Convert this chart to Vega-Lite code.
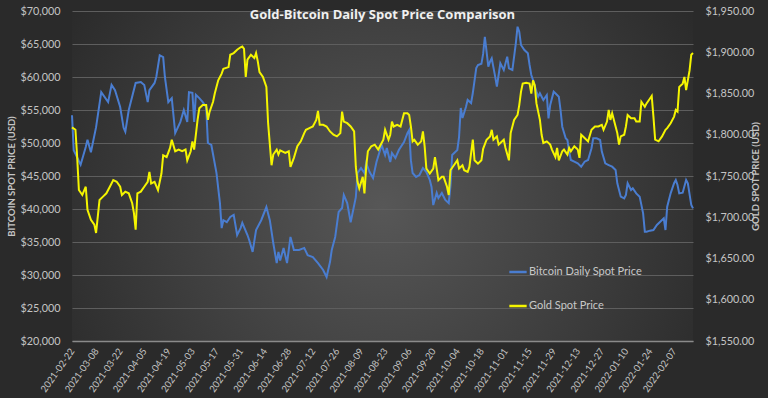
{
  "$schema": "https://vega.github.io/schema/vega-lite/v6.json",
  "autosize": "none",
  "width": 621,
  "height": 330,
  "padding": {"left": 72, "top": 11, "right": 75, "bottom": 57},
  "background": "#2a2a2a",
  "config": {
    "view": {"stroke": null, "fill": {"gradient": "radial", "x1": 0.5, "y1": 0.55, "r1": 0, "x2": 0.5, "y2": 0.55, "r2": 0.6, "stops": [{"offset": 0, "color": "#575757"}, {"offset": 1, "color": "#2a2a2a"}]}},
    "axis": {"labelFont": "Lato", "titleFont": "Lato", "labelColor": "#c4c4c4", "titleColor": "#c4c4c4"}
  },
  "title": {"text": "Gold-Bitcoin Daily Spot Price Comparison", "color": "#f0f0f0", "font": "Open Sans", "fontSize": 13, "fontWeight": "bold", "anchor": "middle", "baseline": "alphabetic", "offset": -27},
  "datasets": {
    "btc": [
      {"date":"2021-02-22","price":54200},{"date":"2021-02-23","price":48900},{"date":"2021-02-27","price":46700},{"date":"2021-03-02","price":49400},{"date":"2021-03-03","price":50500},{"date":"2021-03-05","price":48600},{"date":"2021-03-08","price":52400},{"date":"2021-03-11","price":57700},{"date":"2021-03-15","price":56200},{"date":"2021-03-17","price":58800},{"date":"2021-03-19","price":58000},{"date":"2021-03-22","price":55450},{"date":"2021-03-24","price":52300},{"date":"2021-03-25","price":51700},{"date":"2021-03-27","price":55000},{"date":"2021-03-31","price":59100},{"date":"2021-04-03","price":59250},{"date":"2021-04-05","price":58800},{"date":"2021-04-07","price":56200},{"date":"2021-04-08","price":58000},{"date":"2021-04-11","price":59100},{"date":"2021-04-12","price":60000},{"date":"2021-04-14","price":63300},{"date":"2021-04-16","price":63000},{"date":"2021-04-17","price":60000},{"date":"2021-04-19","price":56200},{"date":"2021-04-21","price":56800},{"date":"2021-04-23","price":51500},{"date":"2021-04-26","price":53200},{"date":"2021-04-28","price":55000},{"date":"2021-04-30","price":53200},{"date":"2021-05-01","price":57700},{"date":"2021-05-03","price":57600},{"date":"2021-05-04","price":53200},{"date":"2021-05-05","price":57300},{"date":"2021-05-07","price":56800},{"date":"2021-05-09","price":56200},{"date":"2021-05-11","price":55450},{"date":"2021-05-12","price":50000},{"date":"2021-05-14","price":49700},{"date":"2021-05-17","price":45450},{"date":"2021-05-19","price":40900},{"date":"2021-05-20","price":37100},{"date":"2021-05-21","price":38300},{"date":"2021-05-23","price":38000},{"date":"2021-05-25","price":38800},{"date":"2021-05-27","price":39100},{"date":"2021-05-29","price":36060},{"date":"2021-05-31","price":37100},{"date":"2021-06-01","price":37900},{"date":"2021-06-04","price":36060},{"date":"2021-06-05","price":35300},{"date":"2021-06-07","price":33500},{"date":"2021-06-09","price":36800},{"date":"2021-06-12","price":38300},{"date":"2021-06-15","price":40300},{"date":"2021-06-17","price":38300},{"date":"2021-06-19","price":34850},{"date":"2021-06-21","price":31800},{"date":"2021-06-22","price":33500},{"date":"2021-06-23","price":32200},{"date":"2021-06-25","price":34100},{"date":"2021-06-27","price":31800},{"date":"2021-06-29","price":35760},{"date":"2021-07-01","price":33800},{"date":"2021-07-04","price":33800},{"date":"2021-07-07","price":34100},{"date":"2021-07-09","price":33000},{"date":"2021-07-12","price":32700},{"date":"2021-07-15","price":31800},{"date":"2021-07-18","price":30760},{"date":"2021-07-20","price":29700},{"date":"2021-07-22","price":32000},{"date":"2021-07-23","price":33800},{"date":"2021-07-25","price":35760},{"date":"2021-07-27","price":39550},{"date":"2021-07-29","price":40150},{"date":"2021-07-30","price":42120},{"date":"2021-08-01","price":40900},{"date":"2021-08-03","price":38000},{"date":"2021-08-06","price":41800},{"date":"2021-08-07","price":45450},{"date":"2021-08-09","price":46200},{"date":"2021-08-11","price":45450},{"date":"2021-08-12","price":46970},{"date":"2021-08-14","price":45600},{"date":"2021-08-16","price":44700},{"date":"2021-08-18","price":47120},{"date":"2021-08-21","price":49700},{"date":"2021-08-23","price":48180},{"date":"2021-08-24","price":49240},{"date":"2021-08-26","price":47120},{"date":"2021-08-27","price":48490},{"date":"2021-08-29","price":47730},{"date":"2021-08-31","price":48940},{"date":"2021-09-03","price":50150},{"date":"2021-09-05","price":51500},{"date":"2021-09-06","price":51970},{"date":"2021-09-07","price":47400},{"date":"2021-09-08","price":45450},{"date":"2021-09-10","price":44850},{"date":"2021-09-12","price":45150},{"date":"2021-09-14","price":46200},{"date":"2021-09-16","price":45600},{"date":"2021-09-18","price":44400},{"date":"2021-09-19","price":43330},{"date":"2021-09-20","price":40600},{"date":"2021-09-22","price":42430},{"date":"2021-09-23","price":41670},{"date":"2021-09-25","price":42430},{"date":"2021-09-27","price":41370},{"date":"2021-09-29","price":40900},{"date":"2021-09-30","price":43500},{"date":"2021-10-01","price":48180},{"date":"2021-10-04","price":48940},{"date":"2021-10-05","price":50900},{"date":"2021-10-06","price":55300},{"date":"2021-10-07","price":53790},{"date":"2021-10-09","price":55450},{"date":"2021-10-10","price":56520},{"date":"2021-10-12","price":56060},{"date":"2021-10-13","price":57570},{"date":"2021-10-15","price":61360},{"date":"2021-10-16","price":61820},{"date":"2021-10-18","price":62000},{"date":"2021-10-19","price":63500},{"date":"2021-10-20","price":66100},{"date":"2021-10-21","price":63840},{"date":"2021-10-22","price":61560},{"date":"2021-10-23","price":62320},{"date":"2021-10-24","price":62830},{"date":"2021-10-26","price":60050},{"date":"2021-10-27","price":58530},{"date":"2021-10-29","price":62070},{"date":"2021-10-31","price":61060},{"date":"2021-11-02","price":63080},{"date":"2021-11-03","price":61320},{"date":"2021-11-05","price":61060},{"date":"2021-11-07","price":65100},{"date":"2021-11-08","price":67620},{"date":"2021-11-09","price":66870},{"date":"2021-11-10","price":64850},{"date":"2021-11-12","price":64090},{"date":"2021-11-14","price":63590},{"date":"2021-11-15","price":61820},{"date":"2021-11-16","price":60300},{"date":"2021-11-17","price":59550},{"date":"2021-11-19","price":57780},{"date":"2021-11-20","price":57020},{"date":"2021-11-21","price":57530},{"date":"2021-11-23","price":56520},{"date":"2021-11-25","price":57270},{"date":"2021-11-26","price":53740},{"date":"2021-11-27","price":55760},{"date":"2021-11-29","price":57780},{"date":"2021-11-30","price":57530},{"date":"2021-12-02","price":57020},{"date":"2021-12-03","price":55000},{"date":"2021-12-04","price":52470},{"date":"2021-12-06","price":50710},{"date":"2021-12-07","price":50450},{"date":"2021-12-08","price":48690},{"date":"2021-12-09","price":47430},{"date":"2021-12-11","price":47170},{"date":"2021-12-13","price":46920},{"date":"2021-12-15","price":46410},{"date":"2021-12-17","price":47170},{"date":"2021-12-19","price":47430},{"date":"2021-12-21","price":49200},{"date":"2021-12-22","price":50710},{"date":"2021-12-24","price":50710},{"date":"2021-12-26","price":50450},{"date":"2021-12-27","price":48690},{"date":"2021-12-29","price":46920},{"date":"2021-12-31","price":46660},{"date":"2022-01-02","price":46410},{"date":"2022-01-04","price":45910},{"date":"2022-01-05","price":43900},{"date":"2022-01-07","price":41870},{"date":"2022-01-09","price":41620},{"date":"2022-01-10","price":42120},{"date":"2022-01-11","price":43900},{"date":"2022-01-13","price":42880},{"date":"2022-01-14","price":43140},{"date":"2022-01-16","price":42370},{"date":"2022-01-18","price":41870},{"date":"2022-01-20","price":39350},{"date":"2022-01-21","price":36570},{"date":"2022-01-22","price":36570},{"date":"2022-01-24","price":36720},{"date":"2022-01-26","price":36820},{"date":"2022-01-28","price":37580},{"date":"2022-01-31","price":38330},{"date":"2022-02-01","price":38580},{"date":"2022-02-02","price":36820},{"date":"2022-02-03","price":40350},{"date":"2022-02-05","price":42370},{"date":"2022-02-07","price":43900},{"date":"2022-02-08","price":44400},{"date":"2022-02-09","price":43640},{"date":"2022-02-10","price":42370},{"date":"2022-02-12","price":42470},{"date":"2022-02-14","price":44400},{"date":"2022-02-15","price":43900},{"date":"2022-02-17","price":40600},{"date":"2022-02-18","price":40100}
    ],
    "gold": [
      {"date":"2021-02-22","price":1809},{"date":"2021-02-24","price":1806},{"date":"2021-02-25","price":1773},{"date":"2021-02-26","price":1733},{"date":"2021-02-28","price":1727},{"date":"2021-03-02","price":1737},{"date":"2021-03-03","price":1709},{"date":"2021-03-05","price":1697},{"date":"2021-03-07","price":1691},{"date":"2021-03-08","price":1681},{"date":"2021-03-09","price":1701},{"date":"2021-03-10","price":1721},{"date":"2021-03-12","price":1725},{"date":"2021-03-14","price":1729},{"date":"2021-03-16","price":1737},{"date":"2021-03-18","price":1745},{"date":"2021-03-20","price":1743},{"date":"2021-03-22","price":1737},{"date":"2021-03-23","price":1727},{"date":"2021-03-25","price":1731},{"date":"2021-03-27","price":1729},{"date":"2021-03-29","price":1717},{"date":"2021-03-30","price":1705},{"date":"2021-03-31","price":1685},{"date":"2021-04-01","price":1729},{"date":"2021-04-03","price":1731},{"date":"2021-04-05","price":1737},{"date":"2021-04-07","price":1743},{"date":"2021-04-08","price":1755},{"date":"2021-04-09","price":1741},{"date":"2021-04-11","price":1743},{"date":"2021-04-13","price":1733},{"date":"2021-04-14","price":1743},{"date":"2021-04-15","price":1753},{"date":"2021-04-16","price":1775},{"date":"2021-04-18","price":1773},{"date":"2021-04-20","price":1784},{"date":"2021-04-21","price":1794},{"date":"2021-04-23","price":1780},{"date":"2021-04-25","price":1782},{"date":"2021-04-27","price":1780},{"date":"2021-04-29","price":1782},{"date":"2021-04-30","price":1769},{"date":"2021-05-02","price":1780},{"date":"2021-05-03","price":1792},{"date":"2021-05-04","price":1782},{"date":"2021-05-06","price":1818},{"date":"2021-05-07","price":1832},{"date":"2021-05-09","price":1836},{"date":"2021-05-11","price":1836},{"date":"2021-05-12","price":1818},{"date":"2021-05-13","price":1828},{"date":"2021-05-15","price":1840},{"date":"2021-05-16","price":1850},{"date":"2021-05-18","price":1866},{"date":"2021-05-20","price":1874},{"date":"2021-05-21","price":1880},{"date":"2021-05-24","price":1882},{"date":"2021-05-25","price":1897},{"date":"2021-05-27","price":1899},{"date":"2021-05-29","price":1903},{"date":"2021-05-31","price":1906},{"date":"2021-06-01","price":1907},{"date":"2021-06-02","price":1904},{"date":"2021-06-03","price":1870},{"date":"2021-06-04","price":1891},{"date":"2021-06-06","price":1897},{"date":"2021-06-08","price":1893},{"date":"2021-06-09","price":1899},{"date":"2021-06-10","price":1889},{"date":"2021-06-11","price":1876},{"date":"2021-06-13","price":1870},{"date":"2021-06-15","price":1858},{"date":"2021-06-16","price":1814},{"date":"2021-06-18","price":1763},{"date":"2021-06-19","price":1776},{"date":"2021-06-21","price":1782},{"date":"2021-06-22","price":1776},{"date":"2021-06-23","price":1781},{"date":"2021-06-26","price":1778},{"date":"2021-06-28","price":1780},{"date":"2021-06-29","price":1761},{"date":"2021-07-01","price":1772},{"date":"2021-07-03","price":1786},{"date":"2021-07-05","price":1792},{"date":"2021-07-07","price":1802},{"date":"2021-07-08","price":1806},{"date":"2021-07-10","price":1808},{"date":"2021-07-12","price":1810},{"date":"2021-07-14","price":1818},{"date":"2021-07-15","price":1829},{"date":"2021-07-16","price":1812},{"date":"2021-07-18","price":1812},{"date":"2021-07-20","price":1810},{"date":"2021-07-22","price":1804},{"date":"2021-07-24","price":1800},{"date":"2021-07-26","price":1798},{"date":"2021-07-28","price":1802},{"date":"2021-07-29","price":1828},{"date":"2021-07-30","price":1816},{"date":"2021-08-01","price":1814},{"date":"2021-08-03","price":1810},{"date":"2021-08-05","price":1804},{"date":"2021-08-06","price":1761},{"date":"2021-08-07","price":1743},{"date":"2021-08-08","price":1735},{"date":"2021-08-10","price":1749},{"date":"2021-08-11","price":1729},{"date":"2021-08-12","price":1761},{"date":"2021-08-13","price":1780},{"date":"2021-08-15","price":1786},{"date":"2021-08-17","price":1788},{"date":"2021-08-19","price":1782},{"date":"2021-08-20","price":1786},{"date":"2021-08-22","price":1794},{"date":"2021-08-23","price":1806},{"date":"2021-08-25","price":1794},{"date":"2021-08-26","price":1800},{"date":"2021-08-27","price":1816},{"date":"2021-08-28","price":1810},{"date":"2021-08-30","price":1812},{"date":"2021-09-01","price":1810},{"date":"2021-09-03","price":1826},{"date":"2021-09-05","price":1826},{"date":"2021-09-06","price":1824},{"date":"2021-09-07","price":1810},{"date":"2021-09-08","price":1792},{"date":"2021-09-09","price":1794},{"date":"2021-09-11","price":1788},{"date":"2021-09-13","price":1792},{"date":"2021-09-14","price":1804},{"date":"2021-09-15","price":1786},{"date":"2021-09-16","price":1759},{"date":"2021-09-18","price":1753},{"date":"2021-09-20","price":1759},{"date":"2021-09-21","price":1773},{"date":"2021-09-23","price":1745},{"date":"2021-09-25","price":1749},{"date":"2021-09-26","price":1749},{"date":"2021-09-28","price":1737},{"date":"2021-09-29","price":1727},{"date":"2021-09-30","price":1757},{"date":"2021-10-02","price":1763},{"date":"2021-10-04","price":1769},{"date":"2021-10-05","price":1759},{"date":"2021-10-07","price":1763},{"date":"2021-10-08","price":1757},{"date":"2021-10-10","price":1755},{"date":"2021-10-11","price":1761},{"date":"2021-10-13","price":1794},{"date":"2021-10-14","price":1769},{"date":"2021-10-16","price":1765},{"date":"2021-10-18","price":1769},{"date":"2021-10-19","price":1783},{"date":"2021-10-21","price":1794},{"date":"2021-10-23","price":1798},{"date":"2021-10-24","price":1806},{"date":"2021-10-25","price":1794},{"date":"2021-10-27","price":1798},{"date":"2021-10-28","price":1788},{"date":"2021-10-29","price":1790},{"date":"2021-10-31","price":1794},{"date":"2021-11-01","price":1784},{"date":"2021-11-03","price":1769},{"date":"2021-11-04","price":1802},{"date":"2021-11-06","price":1818},{"date":"2021-11-08","price":1824},{"date":"2021-11-09","price":1836},{"date":"2021-11-10","price":1852},{"date":"2021-11-11","price":1862},{"date":"2021-11-13","price":1863},{"date":"2021-11-15","price":1862},{"date":"2021-11-16","price":1850},{"date":"2021-11-17","price":1866},{"date":"2021-11-18","price":1860},{"date":"2021-11-19","price":1838},{"date":"2021-11-21","price":1818},{"date":"2021-11-22","price":1800},{"date":"2021-11-23","price":1790},{"date":"2021-11-25","price":1792},{"date":"2021-11-27","price":1788},{"date":"2021-11-28","price":1782},{"date":"2021-11-30","price":1773},{"date":"2021-12-01","price":1784},{"date":"2021-12-02","price":1769},{"date":"2021-12-04","price":1780},{"date":"2021-12-05","price":1782},{"date":"2021-12-07","price":1776},{"date":"2021-12-08","price":1784},{"date":"2021-12-09","price":1780},{"date":"2021-12-11","price":1786},{"date":"2021-12-13","price":1782},{"date":"2021-12-14","price":1772},{"date":"2021-12-15","price":1800},{"date":"2021-12-17","price":1796},{"date":"2021-12-19","price":1792},{"date":"2021-12-21","price":1806},{"date":"2021-12-23","price":1810},{"date":"2021-12-25","price":1810},{"date":"2021-12-27","price":1812},{"date":"2021-12-28","price":1806},{"date":"2021-12-30","price":1816},{"date":"2021-12-31","price":1830},{"date":"2022-01-01","price":1818},{"date":"2022-01-02","price":1826},{"date":"2022-01-04","price":1810},{"date":"2022-01-05","price":1802},{"date":"2022-01-06","price":1788},{"date":"2022-01-07","price":1798},{"date":"2022-01-09","price":1800},{"date":"2022-01-10","price":1810},{"date":"2022-01-11","price":1824},{"date":"2022-01-13","price":1820},{"date":"2022-01-15","price":1820},{"date":"2022-01-16","price":1816},{"date":"2022-01-18","price":1816},{"date":"2022-01-19","price":1840},{"date":"2022-01-21","price":1834},{"date":"2022-01-22","price":1838},{"date":"2022-01-24","price":1844},{"date":"2022-01-25","price":1847},{"date":"2022-01-26","price":1822},{"date":"2022-01-27","price":1794},{"date":"2022-01-29","price":1792},{"date":"2022-01-31","price":1798},{"date":"2022-02-02","price":1806},{"date":"2022-02-03","price":1808},{"date":"2022-02-05","price":1814},{"date":"2022-02-07","price":1822},{"date":"2022-02-08","price":1830},{"date":"2022-02-09","price":1828},{"date":"2022-02-10","price":1858},{"date":"2022-02-12","price":1862},{"date":"2022-02-13","price":1870},{"date":"2022-02-14","price":1854},{"date":"2022-02-16","price":1878},{"date":"2022-02-17","price":1897},{"date":"2022-02-18","price":1899}
    ]
  },
  "encoding": {
    "x": {
      "field": "date", "type": "temporal",
      "scale": {"type": "utc", "nice": false, "domain": [{"year": 2021, "month": 2, "date": 22, "utc": true}, {"year": 2022, "month": 2, "date": 18, "utc": true}]},
      "axis": {
        "title": null, "format": "%Y-%m-%d", "labelAngle": -55, "labelFontSize": 9.5, "labelPadding": 8,
        "grid": false, "ticks": false, "domainColor": "#8a8a8a", "domainWidth": 1.5, "labelOverlap": false,
        "values": [
          {"year":2021,"month":2,"date":22,"utc":true},{"year":2021,"month":3,"date":8,"utc":true},{"year":2021,"month":3,"date":22,"utc":true},{"year":2021,"month":4,"date":5,"utc":true},{"year":2021,"month":4,"date":19,"utc":true},{"year":2021,"month":5,"date":3,"utc":true},{"year":2021,"month":5,"date":17,"utc":true},{"year":2021,"month":5,"date":31,"utc":true},{"year":2021,"month":6,"date":14,"utc":true},{"year":2021,"month":6,"date":28,"utc":true},{"year":2021,"month":7,"date":12,"utc":true},{"year":2021,"month":7,"date":26,"utc":true},{"year":2021,"month":8,"date":9,"utc":true},{"year":2021,"month":8,"date":23,"utc":true},{"year":2021,"month":9,"date":6,"utc":true},{"year":2021,"month":9,"date":20,"utc":true},{"year":2021,"month":10,"date":4,"utc":true},{"year":2021,"month":10,"date":18,"utc":true},{"year":2021,"month":11,"date":1,"utc":true},{"year":2021,"month":11,"date":15,"utc":true},{"year":2021,"month":11,"date":29,"utc":true},{"year":2021,"month":12,"date":13,"utc":true},{"year":2021,"month":12,"date":27,"utc":true},{"year":2022,"month":1,"date":10,"utc":true},{"year":2022,"month":1,"date":24,"utc":true},{"year":2022,"month":2,"date":7,"utc":true}
        ]
      }
    }
  },
  "layer": [
    {
      "data": {"name": "btc"},
      "mark": {"type": "line", "strokeWidth": 2, "interpolate": "linear"},
      "encoding": {
        "y": {"field": "price", "type": "quantitative", "scale": {"domain": [20000, 70000], "nice": false, "zero": false},
          "axis": {"title": "BITCOIN SPOT PRICE (USD)", "titleFontSize": 9.5, "titleFontWeight": "bold", "titlePadding": 3, "format": "$,.0f", "values": [20000,25000,30000,35000,40000,45000,50000,55000,60000,65000,70000], "labelFontSize": 10.8, "labelPadding": 12, "domain": false, "ticks": false, "grid": true, "gridColor": "#5e5e5e", "gridWidth": 1}},
        "color": {"datum": "Bitcoin Daily Spot Price", "type": "nominal",
          "scale": {"domain": ["Bitcoin Daily Spot Price", "Gold Spot Price"], "range": ["#4a7dd0", "#f5f500"]},
          "legend": {"orient": "none", "legendX": 436, "legendY": 251, "title": null, "padding": 0, "symbolType": "stroke", "symbolSize": 300, "symbolStrokeWidth": 2.5, "labelColor": "#c8c8c8", "labelFont": "Lato", "labelFontSize": 11, "labelOffset": 1, "rowPadding": 19}}
      }
    },
    {
      "data": {"name": "gold"},
      "mark": {"type": "line", "strokeWidth": 2, "interpolate": "linear"},
      "encoding": {
        "y": {"field": "price", "type": "quantitative", "scale": {"domain": [1550, 1950], "nice": false, "zero": false},
          "axis": {"orient": "right", "title": "GOLD SPOT PRICE (USD)", "titleAngle": 270, "titleFontSize": 9.5, "titleFontWeight": "bold", "titlePadding": 7, "format": "$,.2f", "values": [1550,1600,1650,1700,1750,1800,1850,1900,1950], "labelFontSize": 10.8, "labelPadding": 12, "domain": false, "ticks": false, "grid": false}},
        "color": {"datum": "Gold Spot Price", "type": "nominal"}
      }
    }
  ],
  "resolve": {"scale": {"y": "independent"}}
}
